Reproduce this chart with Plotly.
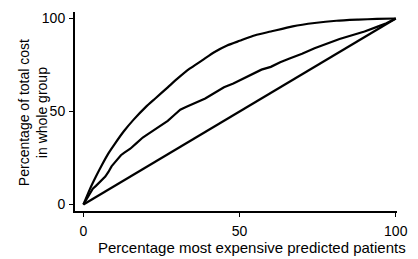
import plotly.graph_objects as go

# Diagonal (random selection)
diag_x = [0, 100]
diag_y = [0, 100]

# Upper curve (perfect prediction)
best_x = [0, 2, 4, 6, 8, 10, 13, 16, 20, 23, 27, 30, 34, 38, 42, 46, 50, 55, 60, 67, 74, 81, 88, 94, 100]
best_y = [0, 8, 15, 21.5, 27.5, 32.5, 39.5, 45.5, 52.5, 57, 63, 67.5, 73, 77.5, 82, 85.5, 88, 91, 93, 95.8, 97.6, 98.8, 99.4, 99.8, 100]

# Middle curve (model prediction)
model_x = [0, 1, 2, 3, 4, 5, 6, 7, 8, 9, 10, 11, 12, 13, 14, 15, 17, 19, 21, 23, 25, 27, 29, 31, 33,
           35, 37, 39, 41, 43, 45, 48, 51, 54, 57, 60, 63, 66, 70, 74, 78, 82, 86, 90, 94, 97, 100]
model_y = [0, 3, 6, 8.5, 10, 11.5, 13, 15, 17.5, 20.5, 22.5, 24.5, 26.5, 27.8, 28.8, 30, 33, 36, 38.2, 40.5,
           43, 45, 48, 51, 52.5, 54, 55.5, 57, 59, 61, 63, 65, 67.5, 70, 72.5, 74, 76.5, 78.5, 81, 84,
           86.5, 89, 91, 93, 95.5, 97.5, 100]

x_ticks = [0, 50, 100]
y_ticks = [0, 50, 100]

line = dict(color="black", width=2.2)
fig = go.Figure()
fig.add_trace(go.Scatter(x=diag_x, y=diag_y, mode="lines", line=line))
fig.add_trace(go.Scatter(x=best_x, y=best_y, mode="lines", line=dict(color="black", width=2.2, shape="spline", smoothing=0.6)))
fig.add_trace(go.Scatter(x=model_x, y=model_y, mode="lines", line=line))

family = "Liberation Sans, Arial, sans-serif"
font = dict(family=family, size=15, color="black")
yfont = dict(family=family, size=14, color="black")
tickfont = dict(family=family, size=14, color="black")
fig.update_layout(
    width=418, height=259,
    margin=dict(l=75, r=12, t=10, b=48),
    paper_bgcolor="white", plot_bgcolor="white",
    showlegend=False,
    font=font,
    xaxis=dict(range=[-2.7, 100.4], tickvals=x_ticks, ticks="outside", ticklen=4, tickwidth=1,
               tickcolor="black", showline=True, linecolor="black", linewidth=2, showgrid=False,
               zeroline=False, tickfont=tickfont, ticklabelstandoff=2),
    yaxis=dict(range=[-3.5, 103.5], tickvals=y_ticks, ticks="outside", ticklen=4, tickwidth=1,
               tickcolor="black", showline=True, linecolor="black", linewidth=2, showgrid=False,
               zeroline=False, tickfont=tickfont, ticklabelstandoff=1),
    annotations=[
        dict(text="Percentage most expensive predicted patients", xref="paper", yref="paper",
             x=(257 - 75) / 331, y=-(248 - 211) / 201, xanchor="center", yanchor="middle",
             showarrow=False, font=font),
        dict(text="Percentage of total cost<br>in whole group", xref="paper", yref="paper",
             x=-(75 - 32) / 331, y=(211 - 112) / 201, xanchor="center", yanchor="middle",
             textangle=-90, showarrow=False, font=yfont),
    ],
)
fig.write_html("out.html", config={"displayModeBar": False},
               post_script="document.body.style.margin='0';document.body.style.overflow='hidden';")
